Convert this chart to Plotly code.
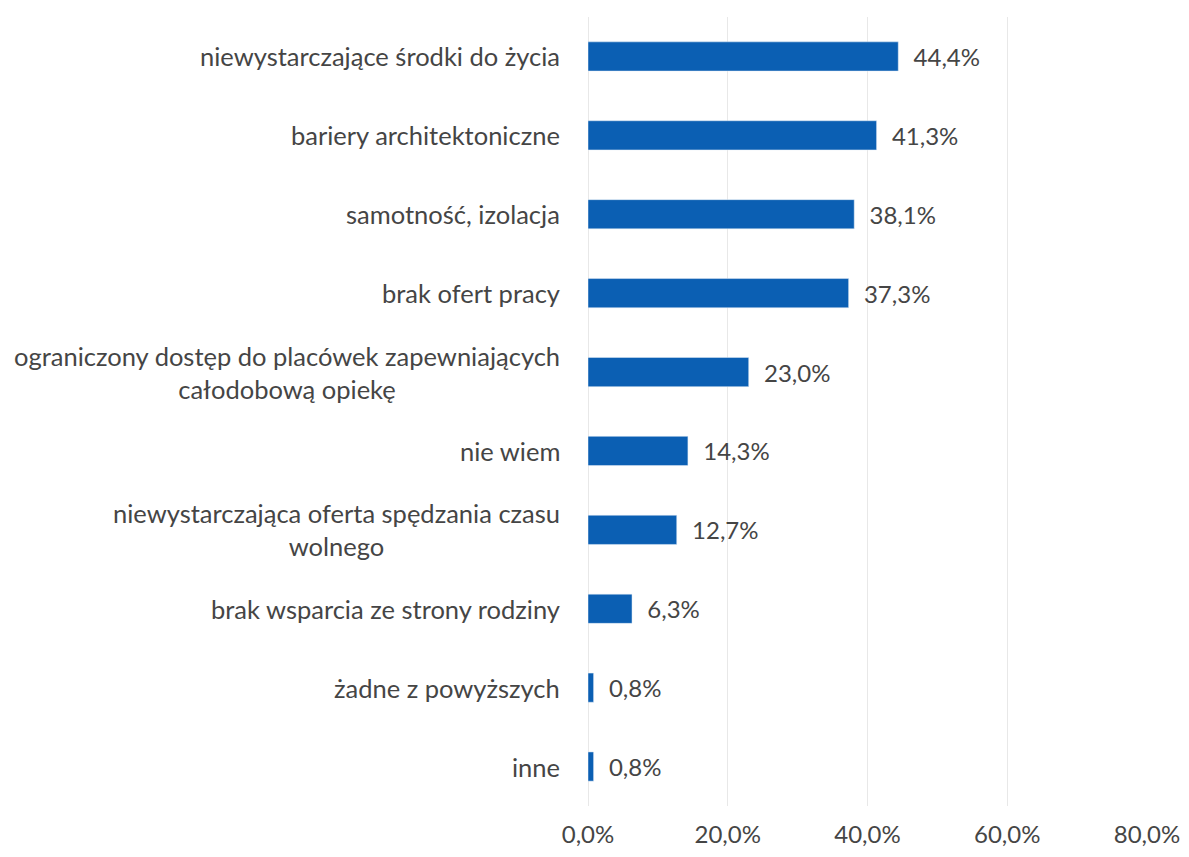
import plotly.graph_objects as go

categories = [
    "niewystarczające środki do życia",
    "bariery architektoniczne",
    "samotność, izolacja",
    "brak ofert pracy",
    "ograniczony dostęp do placówek zapewniających<br>całodobową opiekę",
    "nie wiem",
    "niewystarczająca oferta spędzania czasu<br>wolnego",
    "brak wsparcia ze strony rodziny",
    "żadne z powyższych",
    "inne",
]
values = [44.4, 41.3, 38.1, 37.3, 23.0, 14.3, 12.7, 6.3, 0.8, 0.8]
labels = ["44,4%", "41,3%", "38,1%", "37,3%", "23,0%", "14,3%", "12,7%", "6,3%", "0,8%", "0,8%"]
tick_vals = [0, 20, 40, 60, 80]
tick_text = ["0,0%", "20,0%", "40,0%", "60,0%", "80,0%"]

font_family = "Lato, 'Open Sans', sans-serif"
text_color = "#454545"
fsize = 24
cat_size = 25.5

fig = go.Figure(go.Bar(
    x=values,
    y=categories,
    orientation="h",
    marker=dict(color="#0b5fb3"),
    text=labels,
    texttemplate="\u00a0\u00a0%{text}",
    textposition="outside",
    textfont=dict(family=font_family, size=fsize, color=text_color),
    cliponaxis=False,
    width=0.37,
))

for cat in categories:
    fig.add_annotation(
        x=0, xref="paper", xanchor="right", xshift=-26,
        y=cat, yref="y", yanchor="middle",
        text=cat, showarrow=False, align="center",
        font=dict(family=font_family, size=cat_size, color=text_color),
    )

fig.update_layout(
    width=1181,
    height=849,
    margin=dict(l=580, r=36, t=9, b=45),
    plot_bgcolor="white",
    paper_bgcolor="white",
    showlegend=False,
    font=dict(family=font_family, size=fsize, color=text_color),
    xaxis=dict(
        range=[0, 80],
        tickvals=tick_vals,
        ticktext=tick_text,
        showgrid=True,
        gridcolor="#e8e8e8",
        gridwidth=1,
        zeroline=True,
        zerolinecolor="#e8e8e8",
        zerolinewidth=1,
        showline=False,
        tickfont=dict(family=font_family, size=fsize, color=text_color),
        ticks="",
        ticklabelstandoff=12,
    ),
    yaxis=dict(
        categoryorder="array",
        categoryarray=categories[::-1],
        showgrid=False,
        zeroline=False,
        showline=False,
        ticks="",
        showticklabels=False,
    ),
)

fig.write_html("out.html")
